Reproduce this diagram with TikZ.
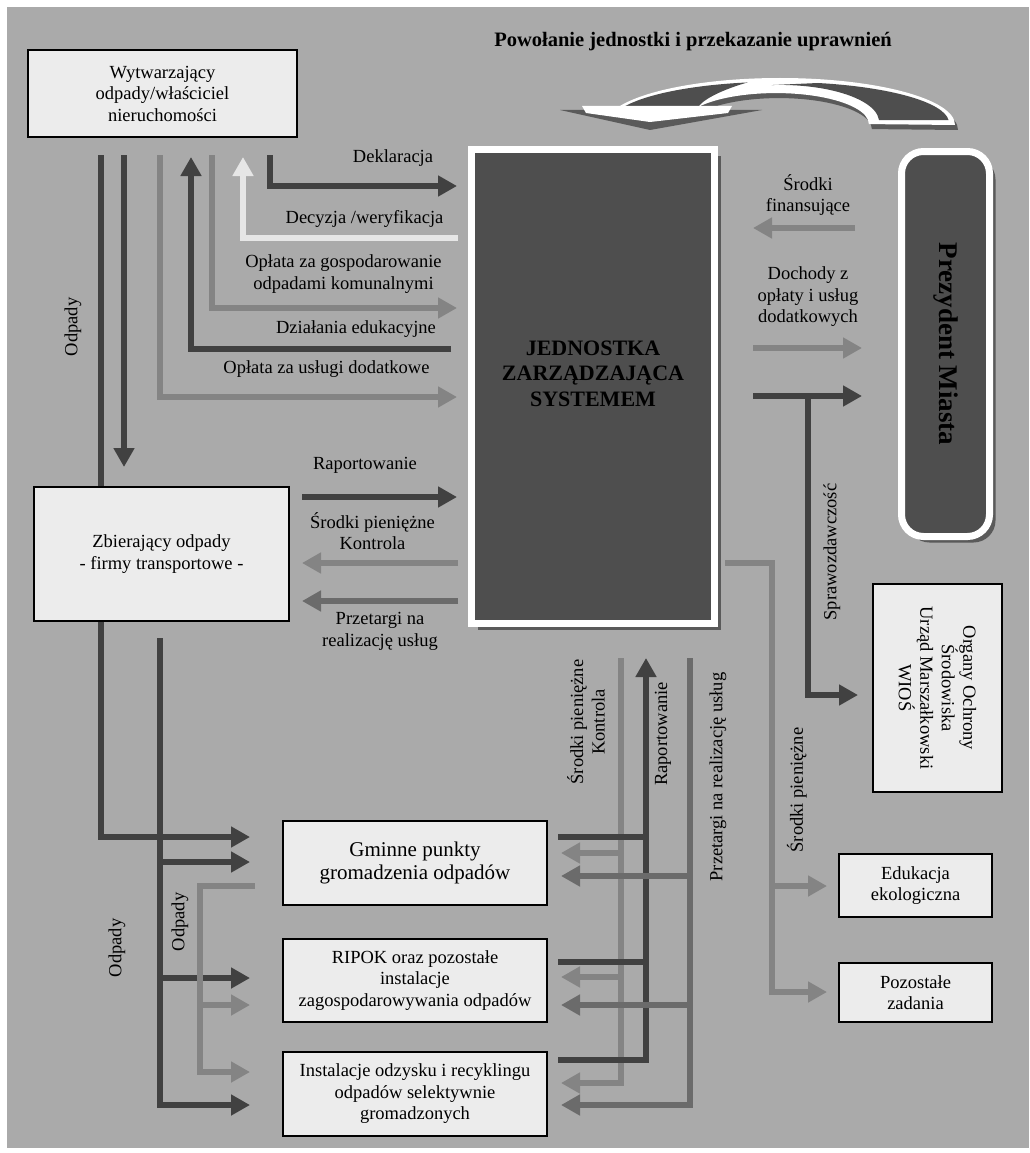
\documentclass[tikz,border=0pt]{standalone}
\usepackage{fontspec}
\setmainfont{Liberation Serif}
\usepackage{tikz}
\usetikzlibrary{arrows.meta,shadows}

\definecolor{bggray}{HTML}{AAAAAA}
\definecolor{flowdark}{HTML}{414141}
\definecolor{flowmid}{HTML}{848484}
\definecolor{flowlight}{HTML}{E6E6E6}
\definecolor{flowtender}{HTML}{6B6B6B}
\definecolor{boxfill}{HTML}{ECECEC}
\definecolor{corefill}{HTML}{4E4E4E}
\definecolor{shadowgray}{HTML}{5A5A5A}

\newcommand{\lblfont}{\fontsize{18.5}{21.5}\selectfont}
\newcommand{\gmfont}{\fontsize{21}{23}\selectfont}
\newcommand{\corefont}{\fontsize{22}{25.5}\selectfont\bfseries}
\newcommand{\ttlfont}{\fontsize{20.5}{24}\selectfont\bfseries}
\newcommand{\prezfont}{\fontsize{27}{30}\selectfont\bfseries}

\tikzset{
  box/.style={draw=black, line width=1.8pt, fill=boxfill, align=center, font=\lblfont, inner sep=0pt},
  core/.style={draw=white, line width=7pt, fill=corefill, inner sep=0pt,
    drop shadow={shadow xshift=6pt, shadow yshift=-6pt, fill=shadowgray, opacity=1}},
  lbl/.style={font=\lblfont, align=center, inner sep=0pt},
  flow/.style={line width=6pt},
  darkflow/.style={flow, draw=flowdark},
  midflow/.style={flow, draw=flowmid},
  lightflow/.style={flow, draw=flowlight},
  tenderflow/.style={flow, draw=flowtender},
  flowtip/.style={-{Triangle[length=19pt, width=20pt]}},
}

\begin{document}
\begin{tikzpicture}[x=1pt, y=-1pt]
\useasboundingbox (0,0) rectangle (1029,1153);
\fill[bggray] (7,7) rectangle (1029,1148);

\node[font=\ttlfont] (title) at (693,42) {Powołanie jednostki i przekazanie uprawnień};

\path[fill=white, drop shadow={shadow xshift=3pt, shadow yshift=-5pt, fill=shadowgray, opacity=1}]
  (955,125) arc[start angle=0, end angle=-160.5, x radius=175, y radius=47]
  -- (693,110) arc[start angle=-153, end angle=0, x radius=93, y radius=31] -- cycle;
\fill[corefill] (622,108) arc[start angle=-159, end angle=-101, x radius=169, y radius=41]
  .. controls (728,88) and (706,97) .. (699,106) -- cycle;
\fill[corefill] (818,83) arc[start angle=-77, end angle=-4, x radius=169, y radius=41]
  -- (879,120) arc[start angle=-3, end angle=-95, x radius=99, y radius=37] -- cycle;
\fill[shadowgray] (560,110) -- (762,110) -- (650,130) -- cycle;
\fill[white] (582,106) -- (732,106) -- (728,113) -- (650,122) -- (586,113) -- cycle;

\coordinate (w1) at (101,155);
\coordinate (w2) at (124,155);
\coordinate (w3) at (160,155);
\coordinate (w4) at (191,157);
\coordinate (w5) at (212,155);
\coordinate (w6) at (243,157);
\coordinate (w7) at (270,155);
\coordinate (j1) at (457,186);
\coordinate (j2) at (458,238);
\coordinate (j3) at (457,308);
\coordinate (j4) at (451,349);
\coordinate (j5) at (457,397);
\coordinate (z1) at (124,467);
\coordinate (g1) at (250,837);
\draw[darkflow, flowtip] (w7) |- (j1);
\draw[lightflow, flowtip] (j2) -| (w6);
\draw[midflow, flowtip] (w5) |- (j3);
\draw[darkflow, flowtip] (j4) -| (w4);
\draw[midflow, flowtip] (w3) |- (j5);
\draw[darkflow, flowtip] (w2) -- (z1);
\draw[darkflow, flowtip] (w1) |- (g1);

\coordinate (r1) at (302,497);
\coordinate (j6) at (457,497);
\coordinate (j7) at (458,563);
\coordinate (r2) at (302,563);
\coordinate (j8) at (458,601);
\coordinate (r3) at (302,601);
\draw[darkflow, flowtip] (r1) -- (j6);
\draw[midflow, flowtip] (j7) -- (r2);
\draw[tenderflow, flowtip] (j8) -- (r3);

\coordinate (z2) at (160,638);
\coordinate (g2) at (250,862);
\coordinate (g3) at (250,978);
\coordinate (g4) at (250,1105);
\draw[darkflow, flowtip] (z2) |- (g4);
\draw[darkflow, flowtip] (z2 |- g2) -- (g2);
\draw[darkflow, flowtip] (z2 |- g3) -- (g3);
\coordinate (gs) at (255,886);
\coordinate (k1) at (200,1072);
\coordinate (g5) at (250,1005);
\coordinate (g6) at (250,1072);
\draw[midflow, flowtip] (gs) -| (k1) -- (g6);
\draw[midflow, flowtip] (k1 |- g5) -- (g5);

\coordinate (s0) at (621,658);
\coordinate (s1) at (561,853);
\coordinate (s2) at (561,977);
\coordinate (s3) at (561,1083);
\draw[midflow, flowtip] (s0) |- (s3);
\draw[midflow, flowtip] (s0 |- s1) -- (s1);
\draw[midflow, flowtip] (s0 |- s2) -- (s2);
\coordinate (rp) at (646,658);
\coordinate (d1) at (558,837);
\coordinate (d2) at (558,962);
\coordinate (d3) at (558,1060);
\draw[darkflow, flowtip] (d3) -| (rp);
\draw[darkflow] (d1) -- (rp |- d1);
\draw[darkflow] (d2) -- (rp |- d2);
\coordinate (t0) at (690,658);
\coordinate (t1) at (561,876);
\coordinate (t2) at (561,1005);
\coordinate (t3) at (561,1105);
\draw[tenderflow, flowtip] (t0) |- (t3);
\draw[tenderflow, flowtip] (t0 |- t1) -- (t1);
\draw[tenderflow, flowtip] (t0 |- t2) -- (t2);

\coordinate (f0) at (855,228);
\coordinate (f1) at (753,228);
\draw[midflow, flowtip] (f0) -- (f1);
\coordinate (h0) at (753,348);
\coordinate (h1) at (862,348);
\draw[midflow, flowtip] (h0) -- (h1);
\coordinate (q0) at (753,396);
\coordinate (q1) at (862,396);
\coordinate (q2) at (808,396);
\coordinate (q3) at (858,695);
\draw[darkflow, flowtip] (q0) -- (q1);
\draw[darkflow, flowtip] (q2) |- (q3);
\coordinate (m0) at (725,563);
\coordinate (mk) at (772,992);
\coordinate (m1) at (827,886);
\coordinate (m2) at (827,992);
\draw[midflow, flowtip] (m0) -| (mk) -- (m2);
\draw[midflow, flowtip] (mk |- m1) -- (m1);

\node[core, minimum width=243pt, minimum height=474pt] (jzs) at (593,386.5) {};
\node[font=\corefont, align=center, inner sep=0pt] (jzsname) at ([yshift=13pt]jzs.center) {JEDNOSTKA\\ZARZĄDZAJĄCA\\SYSTEMEM};
\node[core, rounded corners=22pt, minimum width=88pt, minimum height=385pt] (prez) at (945.5,344) {};
\node[font=\prezfont, rotate=-90, inner sep=0pt] (prezname) at (prez.center) {Prezydent Miasta};

\node[box, minimum width=269pt, minimum height=87pt] (wyt) at (162.5,93.5) {Wytwarzający\\odpady/właściciel\\nieruchomości};
\node[box, minimum width=255pt, minimum height=134pt] (zbier) at (161.5,554) {Zbierający odpady\\- firmy transportowe -};
\node[box, minimum width=264pt, minimum height=84pt, font=\gmfont] (gminne) at (415,863) {Gminne punkty\\gromadzenia odpadów};
\node[box, minimum width=264pt, minimum height=83pt] (ripok) at (415,980.5) {RIPOK oraz pozostałe\\instalacje\\zagospodarowywania odpadów};
\node[box, minimum width=264pt, minimum height=84pt] (inst) at (415,1094) {Instalacje odzysku i recyklingu\\odpadów selektywnie\\gromadzonych};
\node[box, rotate=-90, minimum width=208pt, minimum height=129pt] (organy) at (937.5,688) {Organy Ochrony\\Środowiska\\Urząd Marszałkowski\\WIOŚ};
\node[box, minimum width=153pt, minimum height=63pt] (edu) at (915.5,885.5) {Edukacja\\ekologiczna};
\node[box, minimum width=153pt, minimum height=59pt] (pozost) at (915.5,992.5) {Pozostałe\\zadania};

\node[lbl] (tdekl) at (393,158) {Deklaracja};
\node[lbl] (tdecy) at (364.5,219) {Decyzja /weryfikacja};
\node[lbl] (toplg) at (343.5,274) {Opłata za gospodarowanie\\odpadami komunalnymi};
\node[lbl] (tdzial) at (356,329) {Działania edukacyjne};
\node[lbl] (toplu) at (326.5,369) {Opłata za usługi dodatkowe};
\node[lbl, rotate=90] (todp1) at (73,327) {Odpady};
\node[lbl] (trap) at (365,465) {Raportowanie};
\node[lbl] (tsrk) at (372.5,531) {Środki pieniężne\\Kontrola};
\node[lbl] (tprz) at (380,631.5) {Przetargi na\\realizację usług};
\node[lbl, rotate=90] (todp2) at (117,948) {Odpady};
\node[lbl, rotate=90] (todp3) at (180,922) {Odpady};
\node[lbl, rotate=90] (tsrk2) at (586,722) {Środki pieniężne\\Kontrola};
\node[lbl, rotate=90] (trap2) at (663,734) {Raportowanie};
\node[lbl, rotate=90] (tprz2) at (718,777) {Przetargi na realizację usług};
\node[lbl] (tsrf) at (808,195) {Środki\\finansujące};
\node[lbl] (tdoch) at (808,297) {Dochody z\\opłaty i usług\\dodatkowych};
\node[lbl, rotate=90] (tspr) at (832,552) {Sprawozdawczość};
\node[lbl, rotate=90] (tsrp) at (797,790) {Środki pieniężne};
\end{tikzpicture}
\end{document}
